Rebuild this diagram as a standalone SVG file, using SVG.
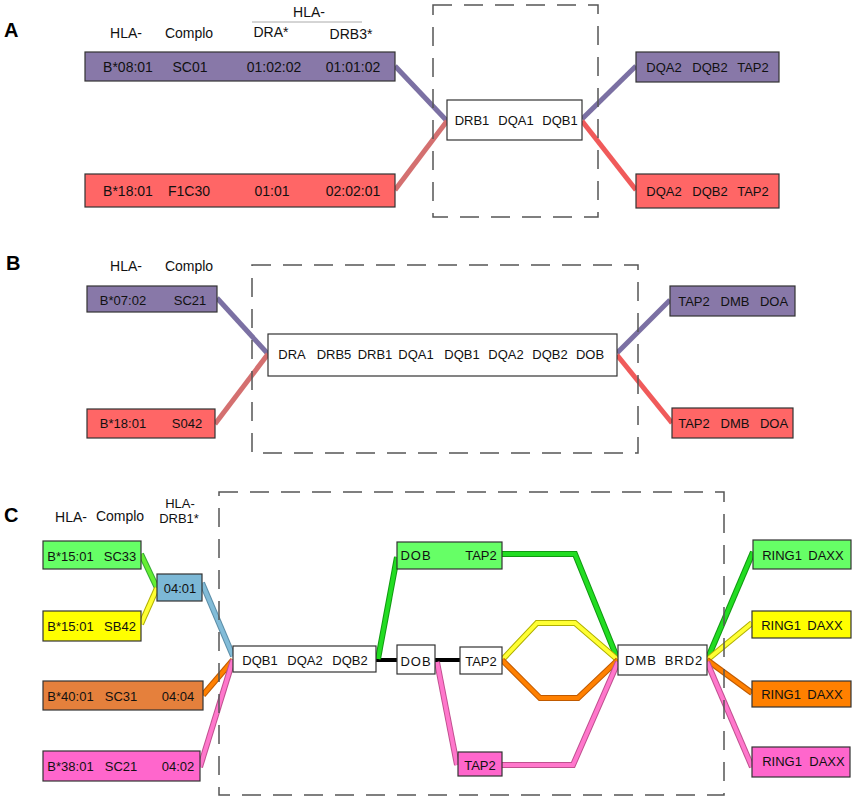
<svg xmlns="http://www.w3.org/2000/svg" width="855" height="800" viewBox="0 0 855 800">
<style>
text{font-family:"Liberation Sans",Arial,sans-serif;font-size:14px;fill:#111;text-anchor:middle}
.s13{font-size:13px}
.ls{letter-spacing:1px}
.pl{font-size:20px;font-weight:bold;text-anchor:start;fill:#000}
.box{stroke:#333;stroke-width:1.2}
.w{fill:#fff}
.pu{fill:#8878a8}
.rd{fill:#ff6666}
.gr{fill:#66ff66}
.ye{fill:#ffff00}
.bl{fill:#7cb8d6}
.orL{fill:#e5803c}
.orR{fill:#ff8000}
.pk{fill:#ff66cc}
.dash{fill:none;stroke:#555;stroke-width:1.5;stroke-dasharray:19 12}
.c{fill:none;stroke-linejoin:miter;stroke-linecap:butt}
.o{stroke-width:6}
.i{stroke-width:4}
</style>

<g id="connectors">
  <!-- Panel A -->
  <line class="c" x1="395" y1="66" x2="447" y2="121" stroke="#7b70a3" stroke-width="5"/>
  <line class="c" x1="395" y1="190" x2="447" y2="121" stroke="#d47070" stroke-width="5"/>
  <line class="c" x1="582" y1="119" x2="636" y2="66" stroke="#7b70a3" stroke-width="5"/>
  <line class="c" x1="582" y1="121" x2="636" y2="190" stroke="#f05a5a" stroke-width="5"/>
  <!-- Panel B -->
  <line class="c" x1="217" y1="298" x2="268" y2="354" stroke="#7b70a3" stroke-width="5"/>
  <line class="c" x1="215" y1="424" x2="268" y2="354" stroke="#d47070" stroke-width="5"/>
  <line class="c" x1="617" y1="353" x2="670" y2="300" stroke="#7b70a3" stroke-width="5"/>
  <line class="c" x1="617" y1="355" x2="672" y2="423" stroke="#f05a5a" stroke-width="5"/>
  <!-- Panel C left -->
  <polyline class="c o" points="141,554 157,588" stroke="#33aa33"/>
  <polyline class="c i" points="141,554 157,588" stroke="#66ee33"/>
  <polyline class="c o" points="141,624 157,588" stroke="#b0b000"/>
  <polyline class="c i" points="141,624 157,588" stroke="#ffff33"/>
  <polyline class="c o" points="202,583 233,656" stroke="#5c8ea8"/>
  <polyline class="c i" points="202,583 233,656" stroke="#82bcd8"/>
  <polyline class="c o" points="203,695 233,660" stroke="#c05a00"/>
  <polyline class="c i" points="203,695 233,660" stroke="#ff8000"/>
  <polyline class="c o" points="200,767 233,660" stroke="#c0508f"/>
  <polyline class="c i" points="200,767 233,660" stroke="#ff77cc"/>
  <!-- Panel C middle -->
  <line class="c" x1="376" y1="660" x2="397" y2="660" stroke="#000" stroke-width="4"/>
  <line class="c" x1="435" y1="660" x2="460" y2="660" stroke="#000" stroke-width="4"/>
  <polyline class="c o" points="378,659 397,557" stroke="#119911"/>
  <polyline class="c i" points="378,659 397,557" stroke="#22dd22"/>
  <polyline class="c o" points="502,554 575,554 618,660" stroke="#119911"/>
  <polyline class="c i" points="502,554 575,554 618,660" stroke="#22dd22"/>
  <polyline class="c o" points="502,660 537,623 575,623 618,660" stroke="#b0b000"/>
  <polyline class="c i" points="502,660 537,623 575,623 618,660" stroke="#ffff33"/>
  <polyline class="c o" points="502,660 540,698 578,698 618,660" stroke="#c05a00"/>
  <polyline class="c i" points="502,660 540,698 578,698 618,660" stroke="#ff8000"/>
  <polyline class="c o" points="437,662 457,765" stroke="#c0508f"/>
  <polyline class="c i" points="437,662 457,765" stroke="#ff77cc"/>
  <polyline class="c o" points="496,765 573,765 618,662" stroke="#c0508f"/>
  <polyline class="c i" points="496,765 573,765 618,662" stroke="#ff77cc"/>
  <!-- Panel C right -->
  <polyline class="c o" points="707,660 753,552" stroke="#119911"/>
  <polyline class="c i" points="707,660 753,552" stroke="#22dd22"/>
  <polyline class="c o" points="707,660 752,623" stroke="#b0b000"/>
  <polyline class="c i" points="707,660 752,623" stroke="#ffff33"/>
  <polyline class="c o" points="707,660 752,693" stroke="#c05a00"/>
  <polyline class="c i" points="707,660 752,693" stroke="#ff8000"/>
  <polyline class="c o" points="707,662 752,767" stroke="#c0508f"/>
  <polyline class="c i" points="707,662 752,767" stroke="#ff77cc"/>
</g>

<!-- Panel A -->
<g id="panelA-labels">
  <text class="pl" x="4" y="37">A</text>
  <text x="126" y="38">HLA-</text>
  <text x="189" y="38">Complo</text>
  <text x="309" y="17">HLA-</text>
  <line x1="252" y1="22" x2="362" y2="22" stroke="#aaa" stroke-width="1"/>
  <text x="271" y="37">DRA*</text>
  <text x="351" y="39">DRB3*</text>
</g>
<rect class="dash" x="433" y="5" width="165" height="212"/>
<g id="A-left-purple">
  <rect class="box pu" x="85" y="52" width="310" height="29"/>
  <text x="128" y="72">B*08:01</text>
  <text x="190" y="72">SC01</text>
  <text x="274" y="72">01:02:02</text>
  <text x="353" y="72">01:01:02</text>
</g>
<g id="A-left-red">
  <rect class="box rd" x="85" y="174" width="310" height="33"/>
  <text x="128" y="196">B*18:01</text>
  <text x="189" y="196">F1C30</text>
  <text x="272" y="196">01:01</text>
  <text x="353" y="196">02:02:01</text>
</g>
<g id="A-center">
  <rect class="box w" x="447" y="100" width="135" height="40"/>
  <text class="s13" x="472" y="125">DRB1</text>
  <text class="s13" x="516" y="125">DQA1</text>
  <text class="s13" x="560" y="125">DQB1</text>
</g>
<g id="A-right-purple">
  <rect class="box pu" x="636" y="52" width="143" height="30"/>
  <text class="s13" x="664" y="72">DQA2</text>
  <text class="s13" x="710" y="72">DQB2</text>
  <text class="s13" x="753" y="72">TAP2</text>
</g>
<g id="A-right-red">
  <rect class="box rd" x="636" y="174" width="143" height="34"/>
  <text class="s13" x="664" y="196">DQA2</text>
  <text class="s13" x="710" y="196">DQB2</text>
  <text class="s13" x="753" y="196">TAP2</text>
</g>

<!-- Panel B -->
<g id="panelB-labels">
  <text class="pl" x="6" y="270">B</text>
  <text x="126" y="271">HLA-</text>
  <text x="189" y="271">Complo</text>
</g>
<rect class="dash" x="252" y="265" width="386" height="188"/>
<g id="B-left-purple">
  <rect class="box pu" x="87" y="286" width="130" height="26"/>
  <text class="s13" x="123" y="305">B*07:02</text>
  <text class="s13" x="190" y="305">SC21</text>
</g>
<g id="B-left-red">
  <rect class="box rd" x="87" y="409" width="128" height="29"/>
  <text class="s13" x="123" y="428">B*18:01</text>
  <text class="s13" x="187" y="428">S042</text>
</g>
<g id="B-center">
  <rect class="box w" x="268" y="334" width="349" height="42"/>
  <text class="s13" x="292" y="359">DRA</text>
  <text class="s13" x="334" y="359">DRB5</text>
  <text class="s13" x="375" y="359">DRB1</text>
  <text class="s13" x="416" y="359">DQA1</text>
  <text class="s13" x="462" y="359">DQB1</text>
  <text class="s13" x="506" y="359">DQA2</text>
  <text class="s13" x="550" y="359">DQB2</text>
  <text class="s13" x="590" y="359">DOB</text>
</g>
<g id="B-right-purple">
  <rect class="box pu" x="670" y="286" width="125" height="30"/>
  <text class="s13" x="694" y="306">TAP2</text>
  <text class="s13" x="735" y="306">DMB</text>
  <text class="s13" x="774" y="306">DOA</text>
</g>
<g id="B-right-red">
  <rect class="box rd" x="672" y="408" width="121" height="30"/>
  <text class="s13" x="694" y="428">TAP2</text>
  <text class="s13" x="735" y="428">DMB</text>
  <text class="s13" x="774" y="428">DOA</text>
</g>

<!-- Panel C -->
<g id="panelC-labels">
  <text class="pl" x="4" y="522">C</text>
  <text x="71" y="522">HLA-</text>
  <text x="120" y="521">Complo</text>
  <text class="s13" x="180" y="508">HLA-</text>
  <text class="s13" x="179" y="523">DRB1*</text>
</g>
<rect class="dash" x="219" y="492" width="505" height="303"/>
<g id="C-left-green">
  <rect class="box gr" x="43" y="541" width="98" height="28"/>
  <text class="s13" x="70.5" y="561">B*15:01</text>
  <text class="s13" x="120" y="561">SC33</text>
</g>
<g id="C-left-yellow">
  <rect class="box ye" x="43" y="611" width="98" height="30"/>
  <text class="s13" x="70.5" y="631">B*15:01</text>
  <text class="s13" x="120" y="631">SB42</text>
</g>
<g id="C-drb1-0401">
  <rect class="box bl" x="157" y="574" width="45" height="27"/>
  <text class="s13" x="180" y="593">04:01</text>
</g>
<g id="C-left-orange">
  <rect class="box orL" x="43" y="681" width="160" height="29"/>
  <text class="s13" x="70.5" y="701">B*40:01</text>
  <text class="s13" x="121" y="701">SC31</text>
  <text class="s13" x="178" y="701">04:04</text>
</g>
<g id="C-left-pink">
  <rect class="box pk" x="43" y="751" width="157" height="30"/>
  <text class="s13" x="70.5" y="771">B*38:01</text>
  <text class="s13" x="121" y="771">SC21</text>
  <text class="s13" x="178" y="771">04:02</text>
</g>
<g id="C-dqb1">
  <rect class="box w" x="233" y="646" width="143" height="26"/>
  <text class="s13" x="260" y="665">DQB1</text>
  <text class="s13" x="305" y="665">DQA2</text>
  <text class="s13" x="350" y="665">DQB2</text>
</g>
<g id="C-dob">
  <rect class="box w" x="397" y="645" width="38" height="29"/>
  <text class="s13 ls" x="416" y="666">DOB</text>
</g>
<g id="C-tap2">
  <rect class="box w" x="460" y="647" width="42" height="27"/>
  <text class="s13" x="481" y="666">TAP2</text>
</g>
<g id="C-green-dob-tap2">
  <rect class="box gr" x="397" y="542" width="105" height="27"/>
  <text class="s13 ls" x="416" y="560">DOB</text>
  <text class="s13" x="481" y="560">TAP2</text>
</g>
<g id="C-pink-tap2">
  <rect class="box pk" x="458" y="752" width="44" height="24"/>
  <text class="s13" x="480" y="770">TAP2</text>
</g>
<g id="C-dmb-brd2">
  <rect class="box w" x="618" y="645" width="89" height="30"/>
  <text class="s13 ls" x="641" y="665">DMB</text>
  <text class="s13 ls" x="684" y="665">BRD2</text>
</g>
<g id="C-right-green">
  <rect class="box gr" x="753" y="540" width="98" height="29"/>
  <text class="s13" x="782" y="560">RING1</text>
  <text class="s13" x="826" y="560">DAXX</text>
</g>
<g id="C-right-yellow">
  <rect class="box ye" x="752" y="611" width="99" height="27"/>
  <text class="s13" x="781" y="630">RING1</text>
  <text class="s13" x="825" y="630">DAXX</text>
</g>
<g id="C-right-orange">
  <rect class="box orR" x="752" y="681" width="99" height="26"/>
  <text class="s13" x="781" y="699">RING1</text>
  <text class="s13" x="825" y="699">DAXX</text>
</g>
<g id="C-right-pink">
  <rect class="box pk" x="752" y="747" width="98" height="30"/>
  <text class="s13" x="782" y="766">RING1</text>
  <text class="s13" x="827" y="766">DAXX</text>
</g>
</svg>
